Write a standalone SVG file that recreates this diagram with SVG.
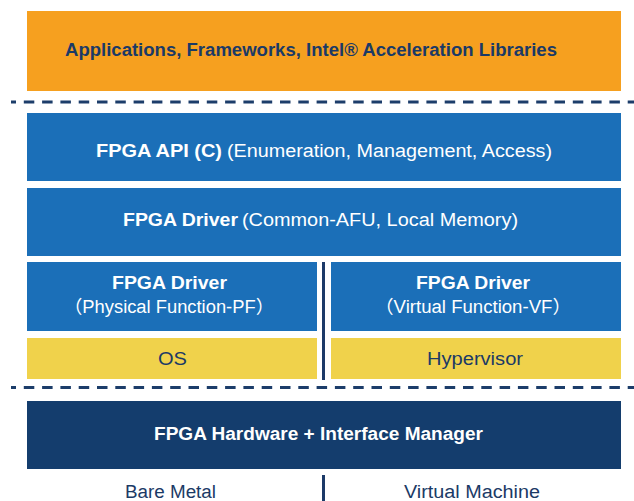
<svg xmlns="http://www.w3.org/2000/svg" width="634" height="501" viewBox="0 0 634 501">
<style>
text{font-family:"Liberation Sans","Noto Sans CJK SC",Arial,sans-serif;font-size:18px}
.b{font-weight:bold}
.w{fill:#ffffff}
.d{fill:#1b3a66}
.dash{stroke:#1c3d6a;stroke-width:3;stroke-dasharray:10.5 7.8;stroke-dashoffset:5.5;fill:none}
.sep{fill:#1c3a68}
</style>
<rect width="634" height="501" fill="#ffffff"/>
<g id="applications">
<rect x="27" y="11" width="594" height="80" fill="#f6a01f"/>
<text class="b d" x="65" y="56" textLength="492" lengthAdjust="spacingAndGlyphs">Applications, Frameworks, Intel® Acceleration Libraries</text>
</g>
<g id="fpga-api">
<rect x="27" y="113" width="594" height="68" fill="#1b6fb8"/>
<text class="b w" x="96" y="156.5" textLength="126" lengthAdjust="spacingAndGlyphs">FPGA API (C)</text>
<text class="w" x="227" y="156.5" textLength="325" lengthAdjust="spacingAndGlyphs">(Enumeration, Management, Access)</text>
</g>
<g id="fpga-driver-common">
<rect x="27" y="188" width="594" height="68" fill="#1b6fb8"/>
<text class="b w" x="123" y="226" textLength="115" lengthAdjust="spacingAndGlyphs">FPGA Driver</text>
<text class="w" x="242" y="226" textLength="276" lengthAdjust="spacingAndGlyphs">(Common-AFU, Local Memory)</text>
</g>
<g id="fpga-driver-pf">
<rect x="27" y="262" width="290" height="69" fill="#1b6fb8"/>
<text class="b w" x="112" y="289" textLength="115" lengthAdjust="spacingAndGlyphs">FPGA Driver</text>
<text class="w" x="64" y="313" textLength="210" lengthAdjust="spacingAndGlyphs">（Physical Function-PF）</text>
</g>
<g id="fpga-driver-vf">
<rect x="331" y="262" width="290" height="69" fill="#1b6fb8"/>
<text class="b w" x="416" y="289" textLength="114" lengthAdjust="spacingAndGlyphs">FPGA Driver</text>
<text class="w" x="375" y="313" textLength="196" lengthAdjust="spacingAndGlyphs">（Virtual Function-VF）</text>
</g>
<g id="os">
<rect x="27" y="338" width="290" height="41" fill="#f0d24b"/>
<text class="d" x="158" y="365" textLength="29" lengthAdjust="spacingAndGlyphs">OS</text>
</g>
<g id="hypervisor">
<rect x="331" y="338" width="290" height="41" fill="#f0d24b"/>
<text class="d" x="427" y="365" textLength="96" lengthAdjust="spacingAndGlyphs">Hypervisor</text>
</g>
<g id="fpga-hardware">
<rect x="27" y="401" width="594" height="68" fill="#143d6d"/>
<text class="b w" x="154" y="440" textLength="329" lengthAdjust="spacingAndGlyphs">FPGA Hardware + Interface Manager</text>
</g>
<g id="bare-metal">
<text class="d" x="125" y="498" textLength="91" lengthAdjust="spacingAndGlyphs">Bare Metal</text>
</g>
<g id="virtual-machine">
<text class="d" x="404" y="498" textLength="136" lengthAdjust="spacingAndGlyphs">Virtual Machine</text>
</g>
<g id="connectors">
<line class="dash" x1="11" y1="102" x2="634" y2="102"/>
<line class="dash" x1="11" y1="387.5" x2="634" y2="387.5"/>
<rect class="sep" x="322" y="262" width="3" height="118"/>
<rect class="sep" x="322" y="475" width="3" height="26"/>
</g>
</svg>
